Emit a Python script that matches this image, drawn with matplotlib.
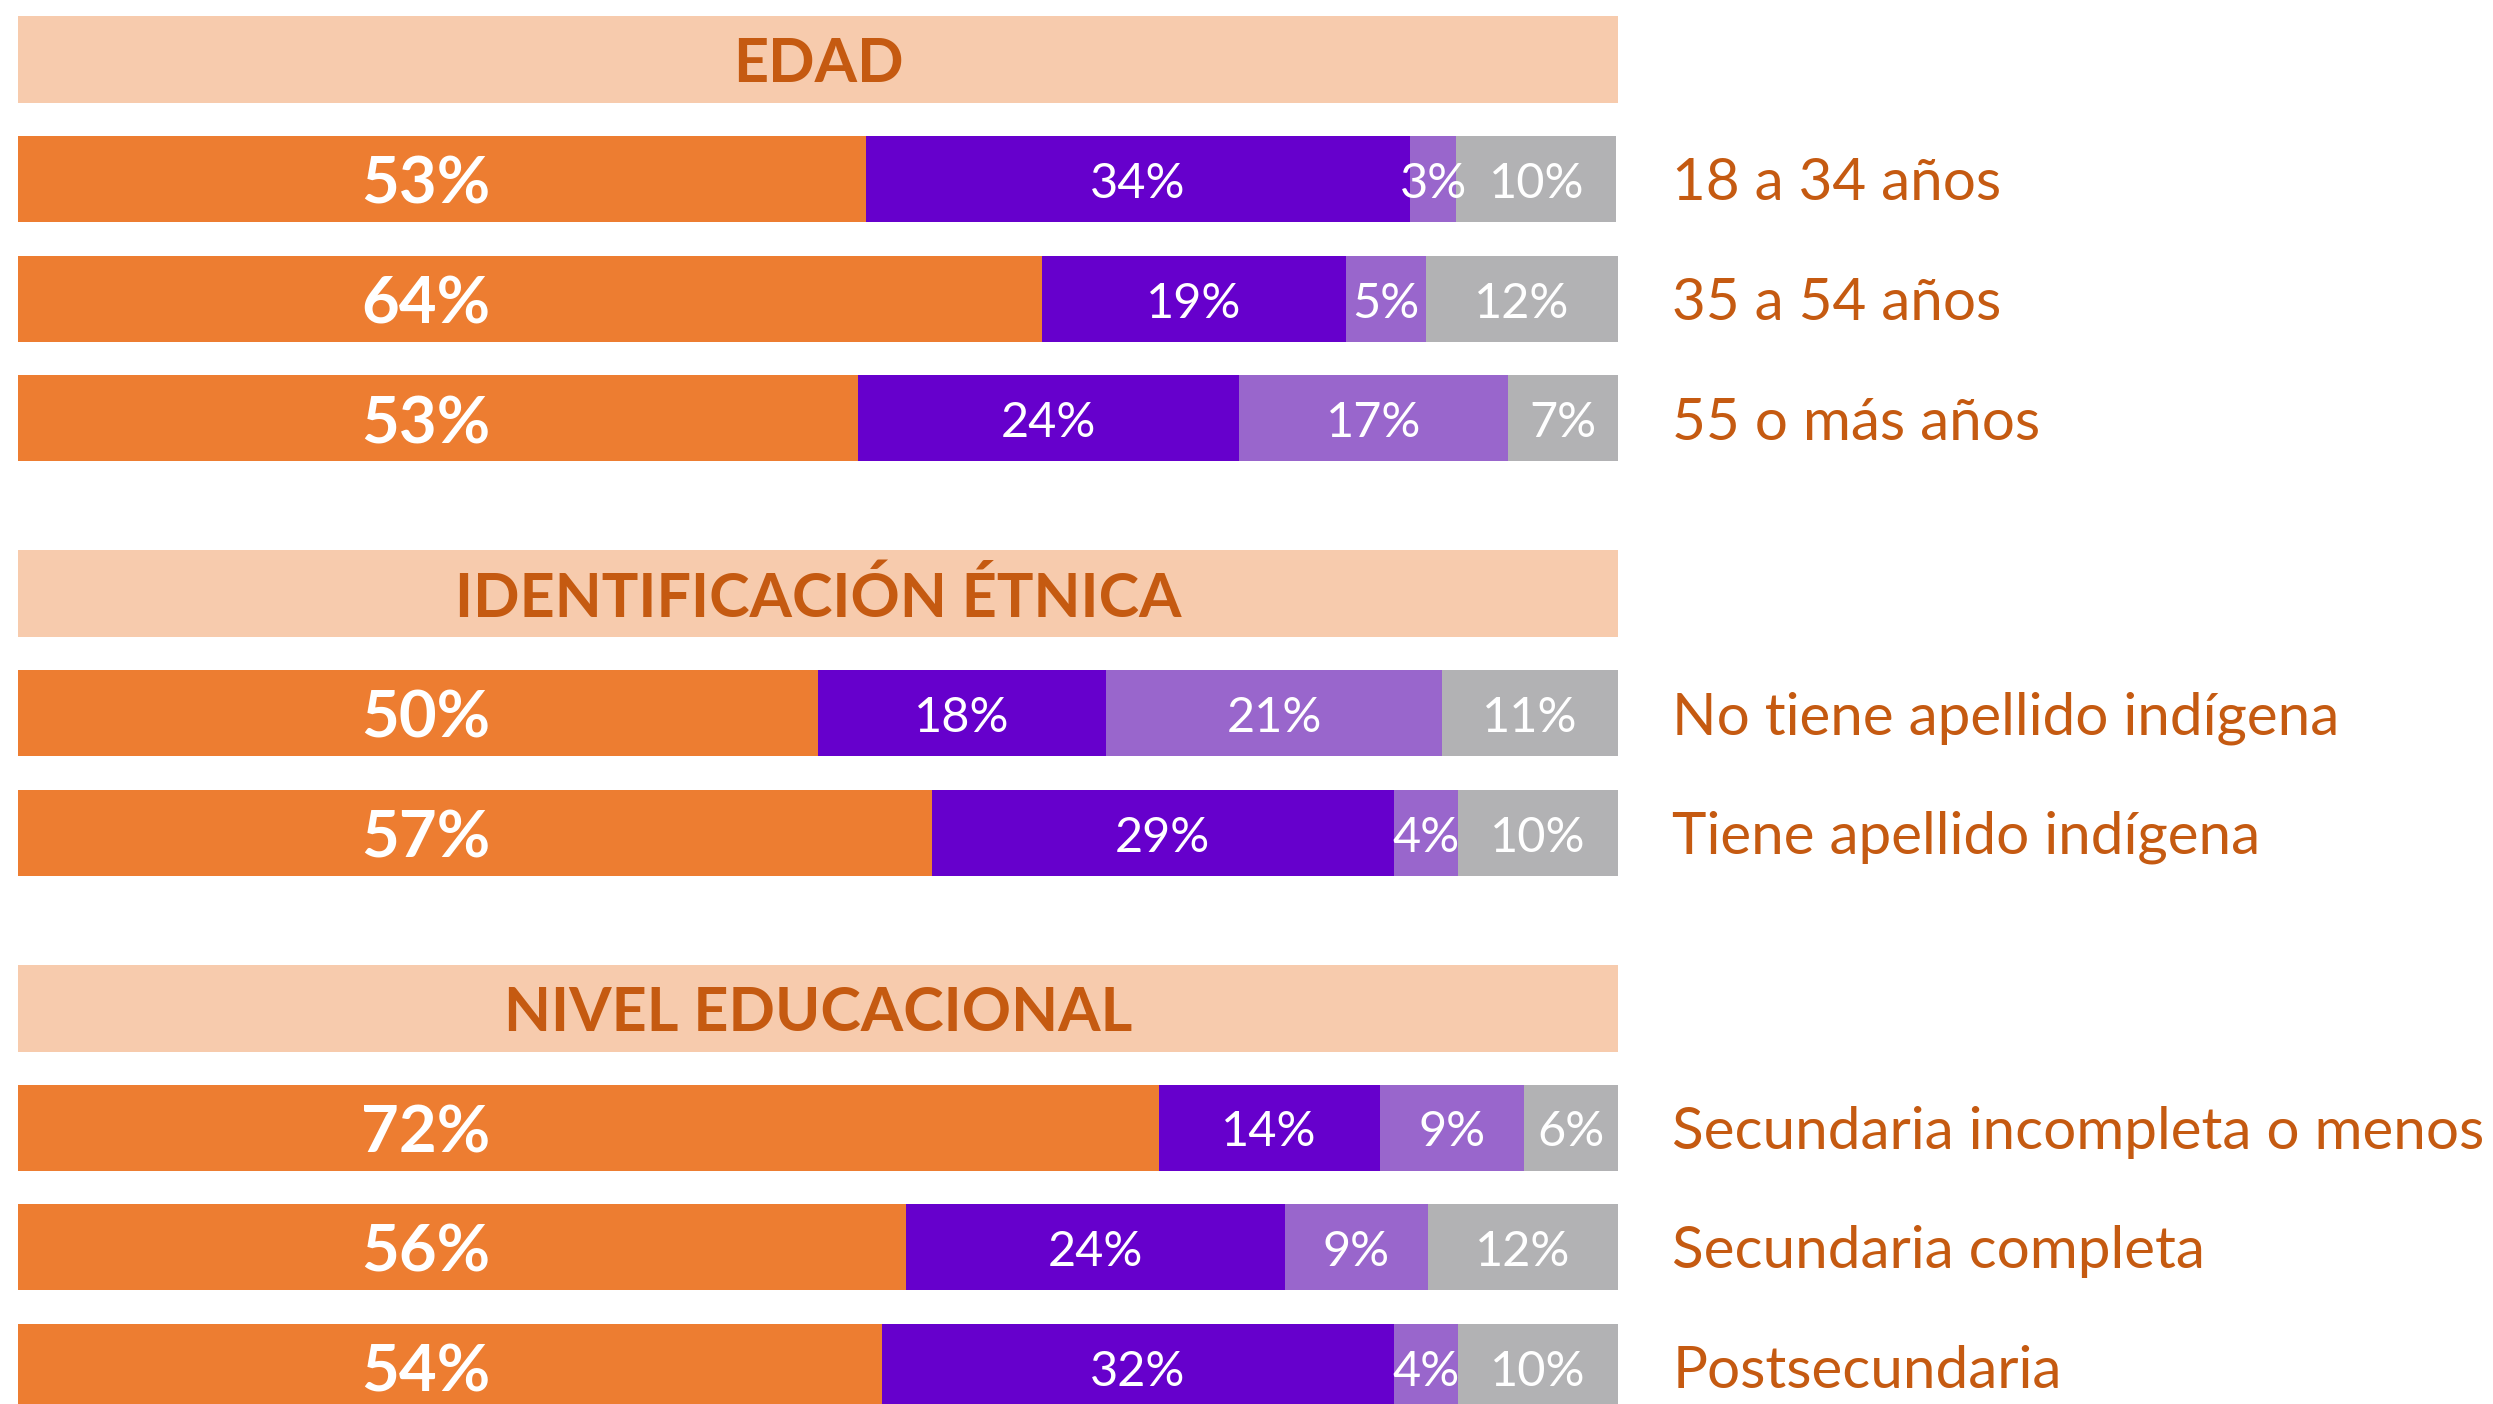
import matplotlib
matplotlib.use("Agg")
import matplotlib.pyplot as plt

plt.rcParams['font.family'] = ['Lato', 'DejaVu Sans']

# Datos (porcentajes)
grupos = ["EDAD", "IDENTIFICACIÓN ÉTNICA", "NIVEL EDUCACIONAL"]
categorias = [
    ["18 a 34 años", "35 a 54 años", "55 o más años"],
    ["No tiene apellido indígena", "Tiene apellido indígena"],
    ["Secundaria incompleta o menos", "Secundaria completa", "Postsecundaria"],
]
# anchos de las barras
serie_1 = [53.0, 64.0, 52.5, 50.0, 57.1, 71.3, 55.5, 54.0]
serie_2 = [34.0, 19.0, 23.8, 18.0, 28.9, 13.8, 23.7, 32.0]
serie_3 = [2.9, 5.0, 16.8, 21.0, 4.0, 9.0, 8.9, 4.0]
serie_4 = [10.0, 12.0, 6.9, 11.0, 10.0, 5.9, 11.9, 10.0]
# etiquetas mostradas
etiq_1 = [53, 64, 53, 50, 57, 72, 56, 54]
etiq_2 = [34, 19, 24, 18, 29, 14, 24, 32]
etiq_3 = [3, 5, 17, 21, 4, 9, 9, 4]
etiq_4 = [10, 12, 7, 11, 10, 6, 12, 10]

colores = ["#ED7D31", "#6600CC", "#9966CC", "#B2B2B4"]
color_texto = "#C55A11"
color_cabecera = "#F7CBAD"

W, H = 2493, 1404
fig = plt.figure(figsize=(W / 100, H / 100), dpi=100)
ax = fig.add_axes([0, 0, 1, 1])
ax.set_xlim(-18 / 16, (W - 18) / 16)
ax.set_ylim(H, 0)
ax.axis("off")

alto = 86
paso = 119.5
y = 59.5
fila = 0
series = [serie_1, serie_2, serie_3, serie_4]
etiquetas = [etiq_1, etiq_2, etiq_3, etiq_4]
for g, nombre in enumerate(grupos):
    # cabecera del grupo
    ax.barh(y, 100, height=alto + 1, left=0, color=color_cabecera)
    ax.text(50, y, nombre, ha="center", va="center_baseline", fontsize=44,
            fontweight="bold", color=color_texto)
    for cat in categorias[g]:
        y += paso
        izq = 0
        for s in range(4):
            v = series[s][fila]
            ax.barh(y, v, height=alto, left=izq, color=colores[s])
            txt = f"{etiquetas[s][fila]}%"
            if s == 0:
                ax.text(25.5, y + 1, txt, ha="center", va="center_baseline",
                        fontsize=47, fontweight="bold", color="white")
            else:
                ax.text(izq + v / 2, y + 1, txt, ha="center", va="center_baseline",
                        fontsize=35, color="white")
            izq += v
        ax.text(103.4, y, cat, ha="left", va="center_baseline", fontsize=42,
                color=color_texto)
        fila += 1
    y += 175.5

fig.savefig("out.png", dpi=100)
